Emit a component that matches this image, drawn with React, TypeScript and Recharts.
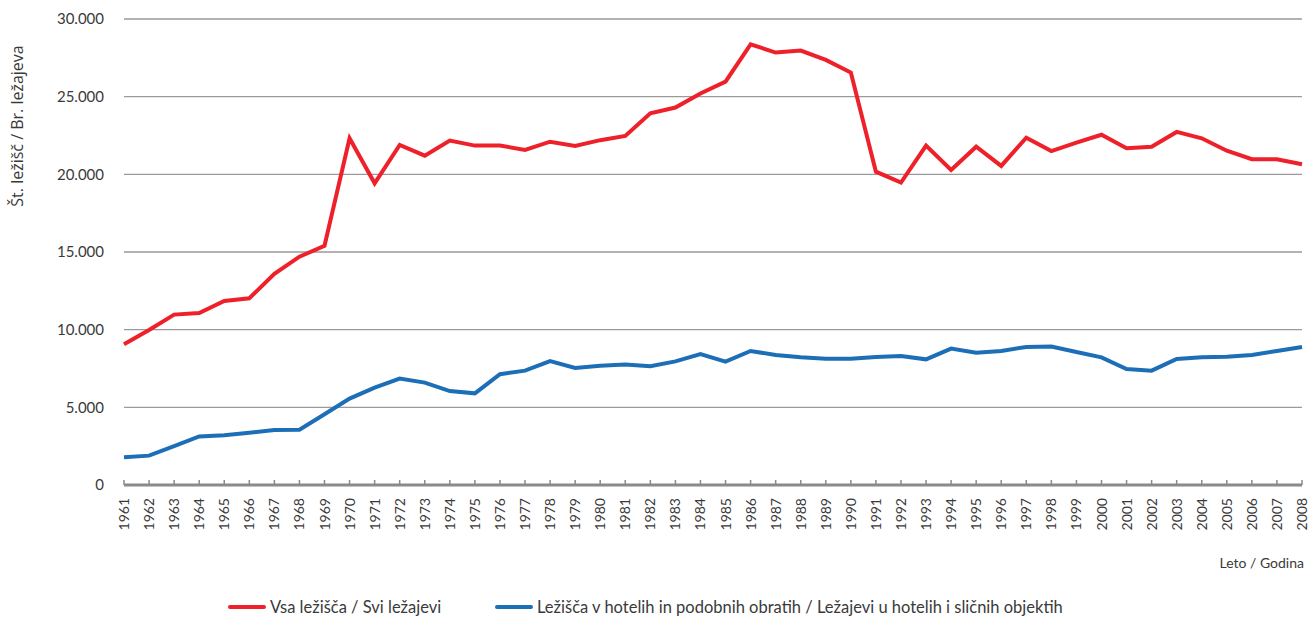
import React from 'react';
import { LineChart, Line, XAxis, YAxis, CartesianGrid, Legend } from 'recharts';

const years = ['1961','1962','1963','1964','1965','1966','1967','1968','1969','1970','1971','1972','1973','1974','1975','1976','1977','1978','1979','1980','1981','1982','1983','1984','1985','1986','1987','1988','1989','1990','1991','1992','1993','1994','1995','1996','1997','1998','1999','2000','2001','2002','2003','2004','2005','2006','2007','2008'];

const allBeds = [9060, 9980, 10970, 11070, 11850, 12020, 13590, 14700, 15400,
  22320, 19420, 21890, 21200, 22170, 21850, 21850, 21570, 22100, 21830,
  22200, 22470, 23930, 24300, 25200, 25970, 28370, 27840, 27970, 27370,
  26550, 20170, 19470, 21850, 20280, 21780, 20540, 22360, 21500, 22040,
  22550, 21680, 21780, 22730, 22320, 21520, 20970, 20970, 20650];

const hotelBeds = [1780, 1890, 2500, 3130, 3200, 3370, 3540, 3560, 4550,
  5560, 6270, 6850, 6590, 6050, 5900, 7130, 7360, 7980, 7530,
  7680, 7750, 7640, 7960, 8430, 7940, 8630, 8370, 8220, 8130,
  8130, 8240, 8300, 8090, 8780, 8520, 8630, 8890, 8910, 8560,
  8220, 7470, 7360, 8110, 8220, 8260, 8370, 8630, 8890];

const yTicks = [0, 5000, 10000, 15000, 20000, 25000, 30000];

const seriesNames = {
  all: 'Vsa ležišča / Svi ležajevi',
  hotel: 'Ležišča v hotelih in podobnih obratih / Ležajevi u hotelih i sličnih objektih',
};
const seriesOrder = ['all', 'hotel'];
const xTitle = 'Leto / Godina';
const yTitle = 'Št. ležišč / Br. ležajeva';

const RED = '#EE2029';
const BLUE = '#1C6FB7';
const FONT = 'Lato, "Open Sans", sans-serif';
const TEXT = '#3a3a3a';

const data = years.map((y, i) => ({ year: y, all: allBeds[i], hotel: hotelBeds[i] }));

const fmt = (v: number) => v.toString().replace(/\B(?=(\d{3})+(?!\d))/g, '.');

const XTick = (props: any) => {
  const { x, payload } = props;
  const y0 = 498;
  return (
    <text
      x={x}
      y={y0}
      dy="0.36em"
      textAnchor="end"
      transform={`rotate(-90, ${x}, ${y0})`}
      fill={TEXT}
      fontSize={14}
      fontFamily={FONT}
    >
      {payload.value}
    </text>
  );
};

const XTitle = (props: any) => {
  const vb = props.viewBox || {};
  return (
    <text x={vb.x + vb.width + 2} y={568} textAnchor="end" fill={TEXT} fontSize={14} fontFamily={FONT}>
      {xTitle}
    </text>
  );
};

const YTitle = () => (
  <text
    x={17}
    y={126}
    textAnchor="middle"
    dominantBaseline="central"
    transform="rotate(-90, 17, 126)"
    fill={TEXT}
    fontSize={16}
    fontFamily='"Open Sans", sans-serif'
  >
    {yTitle}
  </text>
);

const LegendContent = (props: any) => {
  const items = [...(props.payload || [])].sort(
    (a: any, b: any) => seriesOrder.indexOf(a.dataKey) - seriesOrder.indexOf(b.dataKey)
  );
  const lefts = [228, 495];
  return (
    <div style={{ position: 'relative', width: 1309, height: 28, fontFamily: FONT, fontSize: 16.5, color: TEXT }}>
      {items.map((it: any, i: number) => (
        <div key={i} style={{ position: 'absolute', left: lefts[i], top: 8, lineHeight: '20px', display: 'flex', alignItems: 'center', whiteSpace: 'nowrap' }}>
          <span style={{ display: 'inline-block', width: 38, height: 4, background: it.color, borderRadius: 2, marginRight: 4 }} />
          <span>{it.value}</span>
        </div>
      ))}
    </div>
  );
};

export default function App() {
  return (
    <div style={{ position: 'absolute', left: 0, top: 0, width: 1309, height: 617, background: '#fff' }}>
      <LineChart width={1309} height={617} data={data} margin={{ top: 19, right: 7, left: 0, bottom: 0 }}>
        <CartesianGrid vertical={false} stroke="#9a9a9a" strokeWidth={1.4} />
        <XAxis
          dataKey="year"
          scale="point"
          interval={0}
          padding={{ left: 0, right: 0 }}
          height={104}
          axisLine={{ stroke: '#8a8a8a', strokeWidth: 3 }}
          tickLine={{ stroke: '#8a8a8a', strokeWidth: 1.5 }}
          tickSize={-5}
          tick={<XTick />}
          label={<XTitle />}
        />
        <YAxis
          width={124}
          domain={[0, 30000]}
          ticks={yTicks}
          interval={0}
          axisLine={false}
          tickLine={false}
          tickMargin={14}
          tickFormatter={fmt}
          tick={{ fill: TEXT, fontSize: 15, fontFamily: FONT }}
          label={<YTitle />}
        />
        <Legend verticalAlign="bottom" height={28} wrapperStyle={{ left: 0, width: 1309, bottom: 0 }} content={<LegendContent />} />
        <Line type="linear" dataKey="all" name={seriesNames.all} stroke={RED} strokeWidth={4} dot={false} isAnimationActive={false} />
        <Line type="linear" dataKey="hotel" name={seriesNames.hotel} stroke={BLUE} strokeWidth={4} dot={false} isAnimationActive={false} />
      </LineChart>
    </div>
  );
}
